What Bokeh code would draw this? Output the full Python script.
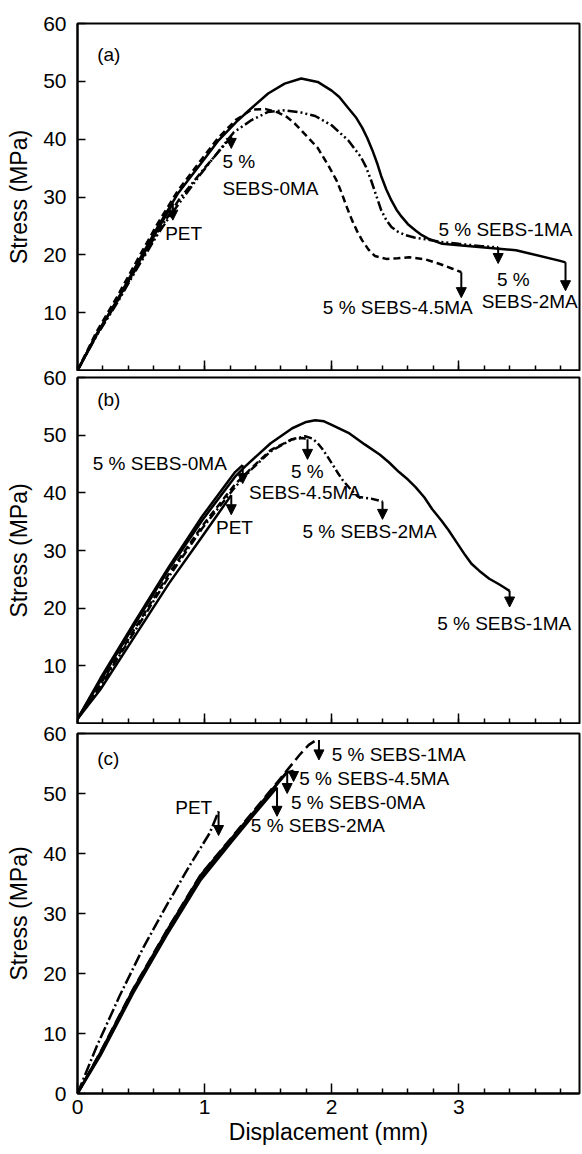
from bokeh.plotting import figure
from bokeh.layouts import column
from bokeh.models import FixedTicker, Arrow, NormalHead, Range1d, LinearAxis
from bokeh.core.properties import value
from bokeh.embed import file_html
from bokeh.resources import INLINE

FONT = "Liberation Sans"

# ---------------- data: panel (a) ----------------
a_pet_d = [0, 0.15, 0.31, 0.47, 0.63, 0.75]
a_pet_s = [0, 6.2, 12.0, 18.2, 24.3, 28.9]
a_pet_arrow = 26.0

a_0ma_d = [0, 0.15, 0.31, 0.47, 0.63, 0.80, 1.00, 1.21]
a_0ma_s = [0, 6.1, 11.8, 18.0, 23.9, 29.6, 35.0, 40.4]
a_0ma_arrow = 38.4

a_1ma_d = [0, 0.15, 0.31, 0.47, 0.63, 0.79, 1.00, 1.11, 1.25, 1.35, 1.50, 1.63, 1.76, 1.89,
           2.00, 2.06, 2.13, 2.19, 2.24, 2.28, 2.32, 2.36, 2.39, 2.43, 2.47, 2.51, 2.55, 2.60,
           2.66, 2.71, 2.76, 2.87, 3.18, 3.45, 3.79, 3.84]
a_1ma_s = [0, 6.3, 12.1, 18.5, 24.8, 30.6, 36.6, 39.8, 43.0, 45.0, 47.9, 49.6, 50.5, 49.9,
           48.4, 47.3, 45.4, 43.8, 42.0, 40.2, 38.1, 35.7, 33.6, 31.3, 29.4, 27.8, 26.6, 25.3,
           24.2, 23.4, 22.8, 21.9, 21.3, 20.8, 19.0, 18.7]
a_1ma_arrow = 13.8

a_2ma_d = [0, 0.15, 0.31, 0.47, 0.63, 0.74, 0.97, 1.23, 1.37, 1.50, 1.63, 1.76, 1.87, 2.00,
           2.13, 2.23, 2.27, 2.31, 2.35, 2.39, 2.43, 2.47, 2.52, 2.58, 2.65, 2.71, 2.87, 3.00,
           3.18, 3.31]
a_2ma_s = [0, 6.0, 11.6, 17.7, 23.5, 27.1, 34.0, 41.2, 43.3, 44.7, 45.0, 44.6, 44.0, 42.4,
           39.8, 36.9, 35.2, 32.9, 30.3, 27.7, 26.0, 24.8, 24.0, 23.4, 23.0, 22.8, 22.2, 21.9,
           21.5, 21.3]
a_2ma_arrow = 18.5

a_45ma_d = [0, 0.15, 0.31, 0.47, 0.63, 0.79, 1.00, 1.11, 1.25, 1.37, 1.48, 1.58, 1.65, 1.71,
            1.80, 1.89, 1.98, 2.04, 2.08, 2.12, 2.16, 2.20, 2.24, 2.29, 2.34, 2.43, 2.52, 2.61,
            2.74, 2.84, 2.95, 3.02]
a_45ma_s = [0, 6.7, 12.7, 19.1, 25.4, 31.1, 37.2, 40.3, 43.4, 45.1, 45.2, 44.6, 43.8, 42.7,
            40.6, 38.5, 35.2, 32.8, 30.6, 28.2, 26.0, 24.1, 22.5, 20.9, 19.8, 19.3, 19.4, 19.6,
            19.2, 18.5, 17.6, 17.0]
a_45ma_arrow = 12.6

a_label_text = ["(a)", "PET", "5 %", "SEBS-0MA", "5 % SEBS-1MA", "5 %", "SEBS-2MA", "5 % SEBS-4.5MA"]
a_label_d = [0.155, 0.69, 1.14, 1.14, 2.84, 3.30, 3.18, 1.93]
a_label_s = [54.7, 23.7, 36.2, 31.5, 24.4, 15.7, 12.0, 10.9]

# ---------------- data: panel (b) ----------------
b_pet_d = [0, 0.18, 0.45, 0.72, 0.98, 1.21]
b_pet_s = [0.8, 5.9, 15.1, 24.3, 32.4, 39.6]
b_pet_arrow = 36.2

b_0ma_d = [0, 0.18, 0.45, 0.72, 0.98, 1.24, 1.30]
b_0ma_s = [0.8, 7.8, 17.6, 27.2, 35.9, 43.6, 44.8]
b_0ma_arrow = 41.6

b_1ma_d = [0, 0.18, 0.45, 0.72, 0.98, 1.24, 1.32, 1.52, 1.69, 1.80, 1.87, 1.94, 2.00, 2.14,
           2.26, 2.38, 2.45, 2.53, 2.60, 2.66, 2.73, 2.79, 2.86, 2.92, 2.99, 3.05, 3.10, 3.16,
           3.24, 3.32, 3.40]
b_1ma_s = [0.8, 7.4, 17.2, 26.8, 35.2, 42.8, 44.6, 48.6, 51.2, 52.3, 52.6, 52.4, 51.8, 50.3,
           48.4, 46.6, 45.3, 43.6, 42.3, 41.0, 39.2, 37.2, 35.3, 33.5, 31.2, 29.2, 27.7, 26.5,
           25.1, 24.1, 23.0]
b_1ma_arrow = 20.2

b_2ma_d = [0, 0.18, 0.45, 0.72, 0.98, 1.24, 1.37, 1.52, 1.69, 1.79, 1.85, 1.89, 1.93, 1.97,
           2.01, 2.05, 2.09, 2.13, 2.17, 2.21, 2.31, 2.40]
b_2ma_s = [0.8, 6.5, 16.0, 25.5, 33.8, 41.0, 44.1, 47.2, 49.3, 49.8, 49.4, 48.6, 47.5, 46.2,
           44.8, 43.4, 42.1, 41.1, 40.1, 39.3, 39.0, 38.5]
b_2ma_arrow = 35.4

b_45ma_d = [0, 0.18, 0.45, 0.72, 0.98, 1.24, 1.37, 1.52, 1.69, 1.77, 1.81]
b_45ma_s = [0.8, 6.8, 16.4, 26.0, 34.2, 41.5, 44.3, 47.4, 49.3, 49.5, 49.3]
b_45ma_arrow = 45.8

b_label_text = ["(b)", "5 % SEBS-0MA", "PET", "5 %", "SEBS-4.5MA", "5 % SEBS-2MA", "5 % SEBS-1MA"]
b_label_d = [0.155, 0.12, 1.09, 1.68, 1.35, 1.77, 2.83]
b_label_s = [56.1, 45.1, 34.0, 43.7, 40.0, 33.3, 17.4]

# ---------------- data: panel (c) ----------------
c_pet_d = [0, 0.15, 0.33, 0.52, 0.70, 0.88, 1.04, 1.11]
c_pet_s = [0, 7.8, 16.2, 24.4, 31.3, 37.9, 43.4, 47.0]
c_pet_arrow = 43.0

c_0ma_d = [0, 0.18, 0.44, 0.70, 0.97, 1.21, 1.39, 1.55, 1.65]
c_0ma_s = [0, 6.6, 17.2, 26.8, 36.1, 42.3, 46.8, 51.0, 53.7]
c_0ma_arrow = 50.0

c_1ma_d = [0, 0.18, 0.44, 0.70, 0.97, 1.21, 1.39, 1.55, 1.65, 1.75, 1.82, 1.87, 1.90]
c_1ma_s = [0, 6.9, 17.5, 27.1, 36.5, 42.6, 47.2, 51.3, 53.9, 56.5, 58.1, 58.8, 58.9]
c_1ma_arrow = 55.6

c_2ma_d = [0, 0.18, 0.44, 0.70, 0.97, 1.21, 1.39, 1.57]
c_2ma_s = [0, 6.3, 16.8, 26.3, 35.6, 41.9, 46.5, 51.0]
c_2ma_arrow = 46.2

c_45ma_d = [0, 0.18, 0.44, 0.70, 0.97, 1.21, 1.39, 1.55, 1.65, 1.70]
c_45ma_s = [0, 6.8, 17.4, 27.0, 36.4, 42.5, 47.0, 51.1, 53.5, 53.8]
c_45ma_arrow = 52.0

c_label_text = ["(c)", "PET", "5 % SEBS-1MA", "5 % SEBS-4.5MA", "5 % SEBS-0MA", "5 % SEBS-2MA"]
c_label_d = [0.155, 1.06, 2.00, 1.745, 1.68, 1.364]
c_label_s = [55.9, 47.75, 56.5, 52.5, 48.5, 44.6]
c_label_align = ["left", "right", "left", "left", "left", "left"]

x_major = [0, 1, 2, 3]
x_minor = [0.2, 0.4, 0.6, 0.8, 1.2, 1.4, 1.6, 1.8, 2.2, 2.4, 2.6, 2.8, 3.2, 3.4, 3.6, 3.8]
y_major_full = [0, 10, 20, 30, 40, 50, 60]
y_major_upper = [10, 20, 30, 40, 50, 60]

# ---------------- styles ----------------
SOLID = "solid"
DASH = "7 4"
DASHDOT = "8 3 2 3"
DASHDOTDOT = "10 3 2 3 2 3"
LONGDASH = "11 5"
LONGDASHDOT = "12 3 2 3"


def make_panel(series, lab_d, lab_s, lab_t, lab_align, height, btop, bbottom, bottom_panel, shift):
    kw = {}
    if shift:
        kw["styles"] = {"margin-top": f"-{shift}px"}
    p = figure(width=581, height=height, x_range=Range1d(0, 3.95), y_range=Range1d(0, 60),
               output_backend="svg", toolbar_location=None,
               min_border_left=77, min_border_right=2,
               min_border_top=btop, min_border_bottom=bbottom,
               background_fill_color="white", border_fill_color=None, **kw)
    p.xgrid.visible = False
    p.ygrid.visible = False
    p.outline_line_color = "black"
    p.outline_line_width = 2
    p.outline_line_alpha = 1

    for d, s, arrow_end, dash in series:
        p.line(d, s, line_color="black", line_width=2.5, line_dash=dash)
        p.add_layout(Arrow(end=NormalHead(size=10, fill_color="black", line_color="black"),
                           x_start=d[-1], y_start=s[-1], x_end=d[-1], y_end=arrow_end,
                           line_color="black", line_width=2))

    p.text(x=lab_d, y=lab_s, text=lab_t, text_align=lab_align,
           text_baseline="middle", text_font=value(FONT), text_font_size=value("19px"),
           text_color="black")

    # y axis
    ya = p.yaxis[0]
    ya.ticker = FixedTicker(ticks=y_major_full if bottom_panel else y_major_upper)
    ya.axis_label = "Stress (MPa)"
    ya.axis_label_text_font = FONT
    ya.axis_label_text_font_size = "23px"
    ya.axis_label_text_font_style = "normal"
    ya.axis_label_text_color = "black"
    ya.axis_label_standoff = 8
    ya.major_label_text_font = FONT
    ya.major_label_text_font_size = "21px"
    ya.major_label_text_color = "black"
    ya.major_label_standoff = 11
    ya.major_tick_in = 8
    ya.major_tick_out = 0
    ya.minor_tick_in = 0
    ya.minor_tick_out = 0
    ya.axis_line_width = 2
    ya.axis_line_color = "black"
    ya.major_tick_line_width = 1.5
    ya.major_tick_line_color = "black"

    # x axis
    xa = p.xaxis[0]
    xa.major_tick_in = 10
    xa.major_tick_out = 0
    xa.minor_tick_in = 5
    xa.minor_tick_out = 0
    xa.axis_line_width = 2
    xa.axis_line_color = "black"
    xa.major_tick_line_width = 1.5
    xa.minor_tick_line_width = 1.5
    xa.major_tick_line_color = "black"
    xa.minor_tick_line_color = "black"
    if bottom_panel:
        xa.ticker = FixedTicker(ticks=x_major, minor_ticks=x_minor)
        xa.axis_label = "Displacement (mm)"
        xa.axis_label_text_font = FONT
        xa.axis_label_text_font_size = "23px"
        xa.axis_label_text_font_style = "normal"
        xa.axis_label_text_color = "black"
        xa.axis_label_standoff = 2
        xa.major_label_text_font = FONT
        xa.major_label_text_font_size = "21px"
        xa.major_label_text_color = "black"
        xa.major_label_standoff = 6
    else:
        # unlabeled axis: short ticks everywhere, long ticks at whole millimetres
        xa.ticker = FixedTicker(ticks=[], minor_ticks=x_minor + x_major)
        xa.major_label_standoff = 0
        xa.axis_label_standoff = 0
        long_ticks = LinearAxis(fixed_location=0,
                                ticker=FixedTicker(ticks=[], minor_ticks=x_major),
                                minor_tick_in=10, minor_tick_out=0,
                                minor_tick_line_width=1.5, minor_tick_line_color="black",
                                major_tick_in=0, major_tick_out=0,
                                axis_line_color=None)
        p.add_layout(long_ticks, "below")
    return p


pa = make_panel([(a_pet_d, a_pet_s, a_pet_arrow, SOLID),
                 (a_0ma_d, a_0ma_s, a_0ma_arrow, DASHDOT),
                 (a_1ma_d, a_1ma_s, a_1ma_arrow, SOLID),
                 (a_2ma_d, a_2ma_s, a_2ma_arrow, DASHDOTDOT),
                 (a_45ma_d, a_45ma_s, a_45ma_arrow, DASH)],
                a_label_d, a_label_s, a_label_text, "left", 371, 23, 1, False, 0)

pb = make_panel([(b_pet_d, b_pet_s, b_pet_arrow, SOLID),
                 (b_0ma_d, b_0ma_s, b_0ma_arrow, SOLID),
                 (b_1ma_d, b_1ma_s, b_1ma_arrow, SOLID),
                 (b_2ma_d, b_2ma_s, b_2ma_arrow, DASHDOT),
                 (b_45ma_d, b_45ma_s, b_45ma_arrow, DASH)],
                b_label_d, b_label_s, b_label_text, "left", 367, 20, 1, False, 14)

pc = make_panel([(c_pet_d, c_pet_s, c_pet_arrow, LONGDASHDOT),
                 (c_0ma_d, c_0ma_s, c_0ma_arrow, SOLID),
                 (c_2ma_d, c_2ma_s, c_2ma_arrow, SOLID),
                 (c_45ma_d, c_45ma_s, c_45ma_arrow, SOLID),
                 (c_1ma_d, c_1ma_s, c_1ma_arrow, LONGDASH)],
                c_label_d, c_label_s, c_label_text, c_label_align, 444, 23, 61, True, 14)

layout = column(pa, pb, pc, spacing=0)
open("out.html", "w").write(file_html(layout, INLINE))
